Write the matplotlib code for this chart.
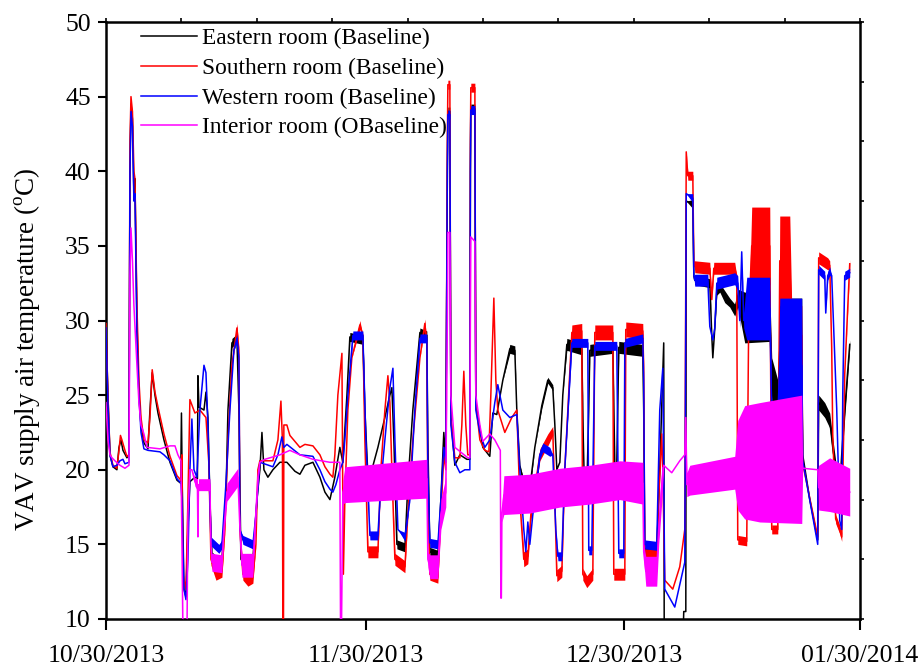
"""VAV supply air temperature of four rooms, baseline period Oct 2013 - Jan 2014."""

import matplotlib

matplotlib.use("Agg")
import matplotlib.pyplot as plt
import numpy as np

plt.rcParams["font.family"] = ["Liberation Serif", "DejaVu Serif"]
plt.rcParams["mathtext.fontset"] = "custom"
plt.rcParams["mathtext.rm"] = "Liberation Serif"

# x axis is elapsed days from 10/30/2013
tick_days = [0.0, 30.1, 60.1, 87.4]
tick_labels = ["10/30/2013", "11/30/2013", "12/30/2013", "01/30/2014"]

# (day, temperature degC, half-width of the noise band degC)
eastern = [
    (0.00, 29.5, 0), (0.23, 25.0, 0), (0.46, 21.0, 0), (0.81, 20.2, 0), (1.27, 20.0, 0),
    (1.51, 21.5, 0), (1.74, 22.0, 0), (1.97, 21.3, 0), (2.43, 20.8, 0), (2.67, 21.0, 0),
    (2.78, 40.0, 0), (2.90, 44.5, 0), (3.07, 43.5, 0), (3.24, 38.5, 0), (3.36, 39.5, 0),
    (3.59, 30.0, 0), (3.82, 25.0, 0), (4.06, 23.0, 0), (4.40, 21.8, 0), (4.87, 21.4, 0),
    (5.10, 24.0, 0), (5.36, 26.5, 0), (5.68, 25.0, 0), (6.03, 23.8, 0), (6.72, 22.0, 0),
    (7.42, 20.5, 0), (8.23, 19.3, 0), (8.66, 19.1, 0), (8.75, 23.8, 0), (8.84, 19.0, 0),
    (9.04, 12.0, 0), (9.27, 11.5, 0), (9.50, 16.0, 0), (9.73, 19.2, 0), (10.31, 19.5, 0),
    (10.60, 19.4, 0), (10.66, 26.3, 0), (10.78, 24.2, 0), (11.36, 24.0, 0), (11.59, 25.2, 0),
    (11.82, 23.5, 0), (12.05, 18.0, 0), (12.28, 14.2, 0.3), (12.98, 13.8, 0.3), (13.44, 14.0, 0.3),
    (13.90, 18.0, 0), (14.14, 24.0, 0), (14.60, 28.5, 0.3), (15.18, 28.8, 0.3), (15.41, 24.0, 0),
    (15.64, 14.0, 0.3), (16.45, 13.5, 0.3), (17.03, 14.0, 0.3), (17.50, 18.0, 0), (17.84, 20.0, 0),
    (18.08, 22.5, 0), (18.31, 20.0, 0), (18.77, 19.5, 0), (19.35, 20.0, 0), (20.16, 20.5, 0),
    (20.97, 20.5, 0), (21.90, 19.9, 0), (22.48, 19.7, 0), (23.06, 20.3, 0), (23.99, 20.5, 0),
    (24.80, 19.5, 0), (25.38, 18.5, 0), (25.96, 18.0, 0), (26.53, 19.5, 0), (27.11, 21.5, 0),
    (27.46, 20.5, 0), (27.93, 25.0, 0), (28.27, 28.9, 0.3), (29.78, 28.7, 0.3), (30.01, 24.0, 0),
    (30.36, 19.6, 0), (30.82, 20.0, 0), (31.52, 21.5, 0), (32.33, 23.5, 0), (32.91, 25.0, 0),
    (33.14, 25.5, 0), (33.37, 22.0, 0), (33.72, 15.0, 0.3), (34.65, 14.8, 0.3), (34.99, 19.0, 0),
    (35.57, 24.0, 0), (36.39, 29.2, 0.3), (37.19, 29.0, 0.3), (37.31, 22.0, 0), (37.54, 14.5, 0.3),
    (38.47, 14.3, 0.3), (38.82, 18.0, 0), (39.16, 22.5, 0), (39.39, 20.5, 0), (39.57, 40.0, 0),
    (39.63, 44.0, 0.3), (39.86, 44.0, 0.3), (39.98, 23.5, 0), (40.44, 20.3, 0), (41.02, 21.0, 0),
    (41.83, 20.7, 0), (42.18, 20.7, 0), (42.24, 40.0, 0), (42.29, 44.2, 0.3), (42.76, 44.2, 0.3),
    (42.87, 24.5, 0), (43.68, 21.5, 0), (44.49, 20.9, 0), (44.84, 23.8, 0), (45.30, 23.7, 0),
    (46.00, 26.0, 0), (46.81, 28.1, 0.3), (47.39, 28.0, 0.3), (47.62, 24.0, 0), (47.97, 20.3, 0),
    (48.55, 18.8, 0.3), (49.13, 18.8, 0.3), (49.71, 21.5, 0), (50.52, 24.3, 0.2), (51.21, 26.0, 0.2),
    (51.79, 25.5, 0.2), (52.03, 23.0, 0), (52.26, 20.0, 0), (52.61, 20.5, 0), (52.95, 25.0, 0),
    (53.42, 28.4, 0.4), (55.15, 28.1, 0.4), (55.33, 22.0, 0), (55.50, 17.8, 0), (55.73, 18.5, 0),
    (55.96, 24.0, 0), (56.08, 28.0, 0.4), (58.75, 28.2, 0.4), (58.98, 20.4, 0), (59.21, 20.4, 0),
    (59.44, 28.2, 0.4), (62.22, 28.0, 0.4), (62.33, 24.0, 0), (62.45, 14.5, 0.3), (63.84, 14.5, 0.3),
    (64.19, 20.0, 0), (64.65, 28.5, 0), (64.71, 8.0, 0), (66.86, 8.0, 0), (66.97, 10.5, 0),
    (67.21, 10.5, 0), (67.26, 38.0, 0), (68.02, 37.8, 0.3), (68.14, 33.0, 0), (68.25, 32.7, 0.3),
    (69.99, 32.5, 0.3), (70.22, 29.0, 0), (70.34, 27.5, 0), (70.57, 29.5, 0), (70.80, 32.0, 0.3),
    (71.15, 32.2, 0.3), (71.72, 31.6, 0.4), (72.30, 31.2, 0.3), (72.88, 30.7, 0.4), (73.23, 31.5, 0.6),
    (74.04, 30.2, 1.7), (76.94, 30.3, 1.7), (77.17, 26.0, 1.5), (77.87, 24.5, 1.5), (78.10, 28.0, 3.5),
    (80.65, 28.0, 3.5), (80.76, 21.0, 0), (81.58, 18.0, 0), (82.50, 15.3, 0), (82.61, 24.5, 0.5),
    (83.31, 24.0, 0.5), (83.89, 23.3, 0.5), (84.24, 21.5, 0.6), (84.70, 19.5, 0.6), (85.05, 18.8, 0.4),
    (85.28, 21.0, 0.5), (85.63, 24.0, 0.5), (86.21, 28.4, 0.3),
]

southern = [
    (0.00, 29.8, 0), (0.23, 25.0, 0), (0.46, 21.2, 0), (0.81, 20.3, 0), (1.27, 20.1, 0),
    (1.51, 21.3, 0), (1.68, 22.3, 0), (1.85, 22.0, 0), (2.20, 21.3, 0), (2.43, 20.9, 0),
    (2.67, 21.0, 0), (2.78, 42.0, 0), (2.90, 45.0, 0), (3.07, 44.0, 0), (3.24, 40.0, 0),
    (3.36, 39.5, 0), (3.59, 31.0, 0), (3.82, 26.0, 0), (4.06, 23.5, 0), (4.40, 22.0, 0),
    (4.87, 21.8, 0), (5.10, 23.5, 0), (5.36, 26.7, 0), (5.68, 25.2, 0), (6.03, 24.2, 0),
    (6.72, 22.4, 0), (7.42, 20.9, 0), (8.23, 19.6, 0), (8.69, 19.3, 0), (8.81, 21.0, 0),
    (8.92, 13.0, 0), (9.27, 12.0, 0), (9.50, 18.0, 0), (9.73, 24.7, 0), (10.31, 23.8, 0),
    (10.89, 24.0, 0), (11.59, 23.5, 0), (11.93, 20.4, 0), (12.17, 14.0, 0.4), (12.75, 13.0, 0.4),
    (13.44, 13.2, 0.4), (13.79, 16.0, 0), (14.14, 22.0, 0), (14.60, 27.0, 0), (15.18, 29.5, 0.3),
    (15.41, 28.0, 0), (15.53, 16.0, 0), (15.87, 13.0, 0.4), (16.45, 12.6, 0.4), (17.03, 12.8, 0.4),
    (17.38, 15.0, 0), (17.61, 20.0, 0), (17.84, 20.6, 0), (19.35, 20.6, 0), (19.93, 22.0, 0),
    (20.28, 24.6, 0), (20.45, 22.0, 0), (20.51, 8.0, 0), (20.57, 8.0, 0), (20.62, 23.0, 0),
    (20.97, 23.0, 0), (21.32, 22.3, 0), (22.48, 21.5, 0), (23.06, 21.7, 0), (23.99, 21.6, 0),
    (24.80, 21.0, 0), (25.38, 20.2, 0), (25.96, 19.7, 0), (26.30, 19.5, 0), (26.53, 21.0, 0),
    (26.88, 25.0, 0), (27.35, 27.8, 0), (27.43, 20.0, 0), (27.52, 13.0, 0), (27.69, 18.0, 0),
    (28.04, 24.0, 0), (28.50, 27.5, 0), (29.43, 29.7, 0.3), (29.78, 29.0, 0), (30.01, 22.0, 0),
    (30.36, 14.5, 0.4), (31.52, 14.5, 0.4), (31.86, 20.0, 0), (32.33, 24.0, 0), (32.68, 26.3, 0),
    (32.91, 24.5, 0), (33.14, 20.0, 0), (33.49, 14.0, 0.4), (34.65, 13.5, 0.4), (34.99, 17.0, 0),
    (35.57, 22.0, 0), (36.39, 27.5, 0), (36.96, 29.8, 0.3), (37.19, 28.5, 0), (37.31, 18.0, 0),
    (37.54, 13.0, 0.4), (38.47, 12.8, 0.4), (38.82, 17.0, 0), (39.16, 21.0, 0), (39.39, 20.0, 0),
    (39.57, 42.0, 0), (39.63, 45.8, 0.3), (39.86, 45.8, 0.3), (39.98, 23.5, 0), (40.44, 20.8, 0),
    (41.02, 20.8, 0), (41.25, 23.0, 0), (41.48, 26.6, 0), (41.71, 23.0, 0), (41.94, 21.0, 0),
    (42.18, 21.0, 0), (42.24, 42.0, 0), (42.29, 45.6, 0.3), (42.76, 45.6, 0.3), (42.87, 24.5, 0),
    (43.34, 22.0, 0), (43.91, 21.3, 0), (44.38, 21.2, 0), (44.61, 25.0, 0), (44.96, 31.5, 0),
    (45.19, 26.0, 0), (45.42, 24.0, 0), (46.23, 22.5, 0), (47.04, 23.5, 0), (47.62, 24.0, 0),
    (47.97, 18.0, 0), (48.43, 14.0, 0.5), (48.90, 14.2, 0.5), (49.25, 17.0, 0.4), (50.29, 21.0, 0.4),
    (51.21, 22.0, 0.4), (51.79, 22.6, 0.3), (52.03, 18.0, 0), (52.26, 12.9, 0.4), (52.84, 13.2, 0.4),
    (53.18, 20.0, 0), (54.00, 29.2, 0.5), (55.15, 29.3, 0.5), (55.27, 13.0, 0.4), (55.73, 12.5, 0.4),
    (56.43, 13.0, 0.4), (56.66, 29.2, 0.5), (58.75, 29.2, 0.5), (58.86, 13.0, 0.4), (60.14, 13.0, 0.4),
    (60.25, 29.4, 0.5), (62.22, 29.3, 0.5), (62.33, 26.9, 0), (62.45, 14.3, 0.4), (63.84, 14.3, 0.4),
    (64.07, 18.0, 0), (64.42, 22.4, 0), (64.54, 20.0, 0), (64.77, 12.6, 0), (65.70, 12.0, 0),
    (66.51, 13.5, 0), (67.09, 16.0, 0), (67.26, 41.3, 0), (67.44, 39.7, 0.3), (68.02, 39.7, 0.3),
    (68.14, 34.0, 0), (68.25, 33.6, 0.4), (69.99, 33.5, 0.4), (70.22, 31.4, 0), (70.45, 33.5, 0.4),
    (72.88, 33.5, 0.4), (73.11, 33.0, 0), (73.23, 15.3, 0.3), (74.27, 15.2, 0.3), (74.50, 30.0, 0),
    (74.85, 35.0, 2.6), (76.94, 35.0, 2.6), (77.17, 16.0, 0.3), (77.87, 16.0, 0.3), (78.10, 34.0, 3.0),
    (79.26, 34.0, 3.0), (79.49, 29.0, 2.0), (80.65, 29.0, 2.0), (80.76, 20.4, 0), (82.50, 15.5, 0),
    (82.61, 34.2, 0.4), (83.66, 33.8, 0.4), (83.89, 33.7, 0.3), (84.12, 28.2, 0), (84.24, 22.4, 0),
    (84.58, 16.7, 0.3), (85.05, 16.0, 0.3), (85.28, 15.5, 0.3), (85.63, 26.4, 0), (86.21, 33.8, 0.3),
]

western = [
    (0.00, 29.5, 0), (0.23, 24.5, 0), (0.46, 21.0, 0), (0.81, 20.2, 0), (1.27, 20.3, 0),
    (1.62, 20.6, 0), (1.97, 20.7, 0), (2.20, 20.4, 0), (2.67, 20.5, 0), (2.78, 40.0, 0),
    (2.90, 44.0, 0), (3.07, 43.0, 0), (3.24, 38.0, 0), (3.36, 38.5, 0), (3.59, 29.0, 0),
    (3.82, 25.0, 0), (4.06, 22.5, 0), (4.40, 21.4, 0), (4.87, 21.3, 0), (6.26, 21.2, 0),
    (6.72, 21.0, 0), (7.42, 20.6, 0), (8.23, 19.4, 0), (8.69, 19.1, 0), (8.81, 18.0, 0),
    (9.04, 12.0, 0), (9.27, 11.3, 0), (9.50, 14.0, 0), (9.73, 20.0, 0), (9.96, 23.4, 0),
    (10.20, 20.0, 0), (10.54, 19.5, 0), (10.89, 24.0, 0), (11.36, 27.0, 0), (11.59, 26.5, 0),
    (11.82, 23.0, 0), (12.05, 18.0, 0), (12.17, 15.2, 0.3), (13.09, 14.7, 0.3), (13.44, 15.0, 0.3),
    (13.90, 19.0, 0), (14.37, 24.0, 0), (14.83, 28.0, 0), (15.18, 28.8, 0.3), (15.41, 27.5, 0),
    (15.53, 16.0, 0), (15.87, 15.3, 0.3), (17.03, 15.0, 0.3), (17.38, 17.0, 0), (17.84, 20.5, 0),
    (19.35, 20.2, 0), (19.93, 21.0, 0), (20.39, 22.2, 0), (20.62, 21.5, 0), (20.97, 21.7, 0),
    (22.48, 21.0, 0), (23.99, 20.9, 0), (24.80, 20.0, 0), (25.38, 19.2, 0), (25.96, 18.7, 0),
    (26.30, 18.5, 0), (26.65, 19.0, 0), (27.11, 20.0, 0), (27.46, 20.5, 0), (27.69, 22.0, 0),
    (28.04, 25.0, 0), (28.62, 29.0, 0.3), (29.78, 29.0, 0.3), (30.13, 22.0, 0), (30.59, 15.6, 0.3),
    (31.52, 15.6, 0.3), (31.86, 19.0, 0), (32.33, 22.0, 0), (32.91, 25.5, 0), (33.26, 26.8, 0),
    (33.49, 22.0, 0), (33.84, 16.0, 0), (34.65, 15.5, 0.3), (35.23, 18.0, 0), (35.80, 24.0, 0),
    (36.39, 28.8, 0.3), (37.19, 28.8, 0.3), (37.31, 20.0, 0), (37.54, 15.1, 0.3), (38.47, 15.0, 0.3),
    (38.82, 18.0, 0), (39.16, 21.5, 0), (39.39, 20.5, 0), (39.57, 40.0, 0), (39.63, 43.8, 0.3),
    (39.86, 43.8, 0.3), (39.98, 23.0, 0), (40.44, 20.5, 0), (41.02, 19.8, 0), (41.60, 20.0, 0),
    (42.18, 20.0, 0), (42.24, 40.0, 0), (42.29, 44.1, 0.3), (42.76, 44.1, 0.3), (42.87, 24.0, 0),
    (43.34, 22.5, 0), (43.91, 21.5, 0), (44.49, 22.0, 0), (45.07, 24.5, 0), (45.42, 25.7, 0),
    (46.00, 24.0, 0), (46.81, 23.5, 0), (47.62, 23.7, 0), (47.97, 20.0, 0), (48.43, 16.0, 0),
    (48.67, 14.5, 0), (48.90, 16.5, 0), (49.13, 15.0, 0), (49.48, 17.0, 0), (50.29, 21.0, 0.3),
    (50.64, 21.5, 0.3), (51.45, 21.2, 0.3), (51.79, 21.0, 0), (52.14, 16.0, 0), (52.38, 14.2, 0.3),
    (52.84, 14.2, 0.3), (53.18, 20.0, 0), (54.00, 28.5, 0.3), (55.85, 28.5, 0.3), (55.96, 14.6, 0.3),
    (56.31, 14.6, 0.3), (56.66, 28.3, 0.3), (59.21, 28.3, 0.3), (59.44, 14.4, 0.3), (60.02, 14.4, 0.3),
    (60.14, 28.5, 0.3), (62.22, 28.8, 0.3), (62.33, 26.0, 0), (62.45, 15.0, 0.3), (63.84, 14.9, 0.3),
    (64.19, 24.0, 0), (64.54, 26.8, 0), (64.77, 12.0, 0), (65.93, 10.8, 0), (67.09, 13.8, 0),
    (67.26, 38.5, 0), (68.02, 38.2, 0.3), (68.14, 33.0, 0), (68.25, 32.7, 0.4), (69.76, 32.7, 0.4),
    (69.99, 29.6, 0), (70.34, 28.7, 0), (70.57, 29.5, 0), (70.80, 32.5, 0.4), (72.88, 32.8, 0.4),
    (73.23, 32.5, 0.5), (73.46, 30.0, 0.5), (73.69, 34.6, 0), (73.92, 30.0, 0.5), (74.27, 30.8, 2.1),
    (76.94, 30.8, 2.1), (77.17, 23.5, 1.0), (77.87, 23.5, 1.0), (78.10, 27.0, 4.5), (80.65, 27.0, 4.5),
    (80.76, 20.6, 0), (82.50, 15.0, 0), (82.61, 33.4, 0.3), (83.31, 33.0, 0.3), (83.43, 30.5, 0),
    (83.66, 33.0, 0.3), (83.89, 33.3, 0.3), (84.12, 33.0, 0), (84.47, 27.7, 0), (84.70, 24.1, 0),
    (85.05, 16.6, 0), (85.28, 16.0, 0), (85.40, 25.0, 0), (85.63, 33.0, 0.3), (86.21, 33.2, 0.3),
]

interior = [
    (0.00, 24.5, 0), (0.23, 22.0, 0), (0.46, 21.0, 0), (0.70, 20.8, 0), (1.04, 20.6, 0),
    (1.62, 20.3, 0), (2.20, 20.1, 0), (2.67, 20.3, 0), (2.78, 33.0, 0), (2.90, 36.2, 0),
    (3.07, 34.0, 0), (3.24, 31.0, 0), (3.59, 27.0, 0), (3.82, 24.5, 0), (4.06, 23.0, 0),
    (4.40, 22.4, 0), (4.75, 21.5, 0), (6.26, 21.4, 0), (7.42, 21.6, 0), (8.00, 21.6, 0),
    (8.34, 21.0, 0), (8.69, 20.6, 0), (8.81, 15.0, 0), (8.92, 9.0, 0.5), (9.39, 9.0, 0.5),
    (9.50, 17.0, 0), (9.73, 20.0, 0), (9.96, 20.0, 0), (10.31, 19.2, 0.3), (10.60, 19.0, 0.4),
    (10.66, 15.5, 0), (10.72, 19.0, 0.4), (12.05, 19.0, 0.4), (12.17, 15.0, 0), (12.28, 13.8, 0.6),
    (13.44, 13.7, 0.6), (13.67, 16.0, 0.3), (14.02, 18.5, 0.6), (15.29, 19.5, 0.6), (15.53, 16.0, 0.3),
    (15.76, 13.6, 0.8), (17.03, 13.6, 0.8), (17.26, 16.0, 0.6), (17.61, 19.5, 0.4), (17.84, 20.5, 0),
    (18.42, 20.7, 0), (20.16, 21.0, 0), (21.32, 21.3, 0), (22.48, 21.0, 0), (23.99, 20.7, 0),
    (25.96, 20.5, 0), (27.11, 20.5, 0), (27.19, 9.0, 0), (27.29, 9.0, 0), (27.46, 18.5, 0.8),
    (27.69, 19.0, 1.2), (37.19, 19.4, 1.3), (37.31, 14.0, 0.5), (37.54, 13.5, 0.8), (38.47, 13.5, 0.8),
    (38.82, 17.0, 1.0), (39.39, 18.5, 1.0), (39.57, 30.0, 0), (39.63, 35.9, 0), (39.86, 35.9, 0),
    (39.98, 25.0, 0), (40.44, 21.5, 0), (41.94, 20.8, 0), (42.18, 20.8, 0), (42.24, 30.0, 0),
    (42.29, 35.6, 0), (42.76, 35.3, 0), (42.87, 25.0, 0), (43.34, 23.0, 0), (43.68, 21.9, 0),
    (44.49, 22.4, 0), (45.07, 22.0, 0), (45.71, 21.3, 0), (45.77, 11.4, 0), (45.83, 11.4, 0),
    (45.89, 17.0, 0.5), (46.12, 18.3, 1.3), (49.13, 18.4, 1.3), (52.61, 18.8, 1.3), (56.08, 19.0, 1.3),
    (59.56, 19.3, 1.3), (62.22, 19.1, 1.4), (62.33, 14.5, 0.5), (62.57, 13.2, 1.0), (63.84, 13.2, 1.0),
    (64.07, 16.0, 1.0), (64.42, 19.0, 1.2), (64.65, 20.3, 0), (65.58, 19.8, 0), (66.51, 20.6, 0),
    (67.09, 21.0, 0), (67.21, 23.5, 0), (67.33, 19.0, 0.8), (67.67, 19.3, 1.0), (72.88, 19.8, 1.1),
    (73.23, 20.3, 3.0), (74.04, 20.5, 3.8), (75.78, 20.5, 4.0), (80.65, 20.7, 4.3), (80.76, 20.1, 0),
    (82.50, 20.0, 0), (82.61, 18.8, 1.5), (83.89, 19.0, 1.8), (86.21, 18.5, 1.6),
]


def draw_series(ax, rows, color, label, z):
    day, temp, spread = np.array(rows, dtype=float).T
    ax.fill_between(day, temp - spread, temp + spread, color=color, lw=0, zorder=z)
    (line,) = ax.plot(day, temp, color=color, lw=1.1, label=label, zorder=z)
    return line


fig = plt.figure(figsize=(9.19, 6.71), dpi=100)
ax = fig.add_axes([0.1153, 0.0775, 0.8205, 0.8897])

handles = [
    draw_series(ax, eastern, "#000000", "Eastern room (Baseline)", 2),
    draw_series(ax, southern, "#ff0000", "Southern room (Baseline)", 3),
    draw_series(ax, western, "#0000ff", "Western room (Baseline)", 4),
    draw_series(ax, interior, "#ff00ff", "Interior room (OBaseline)", 5),
]

ax.set_xlim(tick_days[0], tick_days[-1])
ax.set_ylim(10, 50)
ax.set_xticks(tick_days)
ax.set_xticklabels(tick_labels)
ax.set_yticks(np.arange(10, 51, 5))
ax.tick_params(axis="y", direction="out", length=6, width=1.5, pad=5, labelsize=18.5)
ax.tick_params(axis="x", direction="out", length=8, width=1.5, pad=11, labelsize=18.5)
ax.set_ylabel(r"VAV supply air temperature ($^{\rm o}$C)", fontsize=19.5)
ax.yaxis.set_label_coords(-0.085, 0.452)
for spine in ax.spines.values():
    spine.set_linewidth(1.8)

# unlabelled ticks along the top and right edges
top = ax.twiny()
top.set_xlim(0, 10)
top.set_xticks(np.arange(11))
top.set_xticklabels([])
top.tick_params(axis="x", direction="out", length=3, width=1.2)
right = ax.twinx()
right.set_ylim(0, 10)
right.set_yticks(np.arange(11))
right.set_yticklabels([])
right.tick_params(axis="y", direction="out", length=3, width=1.2)
for twin in (top, right):
    for spine in twin.spines.values():
        spine.set_visible(False)

ax.legend(
    handles=handles,
    loc="upper left",
    bbox_to_anchor=(0.046, 0.99),
    frameon=False,
    fontsize=16.8,
    handlelength=2.4,
    handletextpad=0.25,
    labelspacing=0.36,
    borderpad=0,
    borderaxespad=0,
)

fig.savefig("out.png", dpi=100)
